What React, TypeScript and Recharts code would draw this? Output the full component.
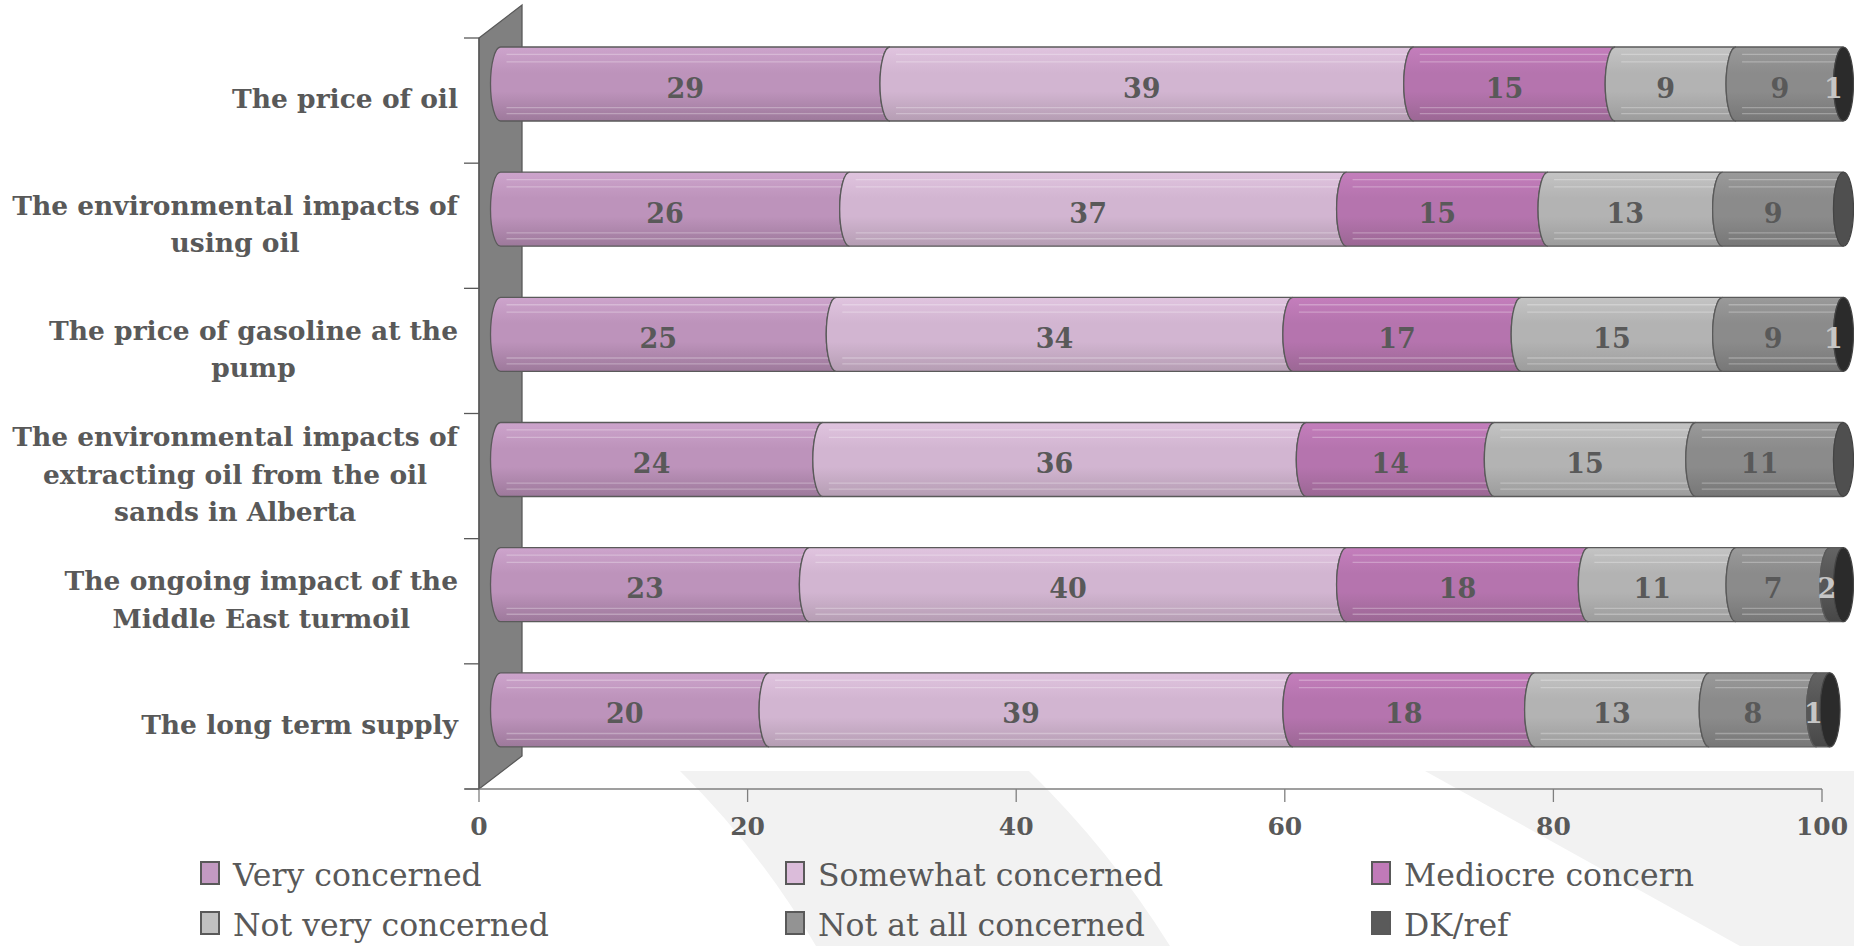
import React from 'react';
import { BarChart, Bar, XAxis, YAxis, LabelList } from 'recharts';

// ---------------- DATA ----------------
const categories = [
  'The price of oil',
  'The environmental impacts of using oil',
  'The price of gasoline at the pump',
  'The environmental impacts of extracting oil from the oil sands in Alberta',
  'The ongoing impact of the Middle East turmoil',
  'The long term supply',
];
const categoryLines = [
  ['The price of oil'],
  ['The environmental impacts of', 'using oil'],
  ['The price of gasoline at the', 'pump'],
  ['The environmental impacts of', 'extracting oil from the oil', 'sands in Alberta'],
  ['The ongoing impact of the', 'Middle East turmoil'],
  ['The long term supply'],
];
const seriesNames = [
  'Very concerned',
  'Somewhat concerned',
  'Mediocre concern',
  'Not very concerned',
  'Not at all concerned',
  'DK/ref',
];
const veryConcerned = [29, 26, 25, 24, 23, 20];
const somewhatConcerned = [39, 37, 34, 36, 40, 39];
const mediocreConcern = [15, 15, 17, 14, 18, 18];
const notVeryConcerned = [9, 13, 15, 15, 11, 13];
const notAtAllConcerned = [9, 9, 9, 11, 7, 8];
const dkRef = [1, 0, 1, 0, 2, 1];
const xTicks = [0, 20, 40, 60, 80, 100];
const xMax = 100;

const seriesValues = [
  veryConcerned,
  somewhatConcerned,
  mediocreConcern,
  notVeryConcerned,
  notAtAllConcerned,
  dkRef,
];

// ---------------- STYLE ----------------
const W = 1854;
const H = 946;
const PLOT_LEFT = 479;
const PLOT_TOP = 38;
const PLOT_RIGHT_MARGIN = 32;
const X_AXIS_H = 157;
const PLOT_BOTTOM = H - X_AXIS_H;
const SHIFT_X = 11.5;
const SHIFT_Y = 17;
const RX = 10;
const WALL_DX = 43;
const WALL_DY = 33;
const BAR_SIZE = 74;
const FONT = "'DejaVu Serif', serif";
const TEXT = '#595959';

const gradStops = [
  ['#cda4cc', '#bd93bb', '#9d799b'],
  ['#e0c4df', '#d2b5d1', '#b59db3'],
  ['#c47ebc', '#b574ae', '#9b6794'],
  ['#c4c4c4', '#b3b3b3', '#9c9c9c'],
  ['#9a9a9a', '#8b8b8b', '#777777'],
  ['#646464', '#575757', '#474747'],
];
const capColors = ['#8e6e8c', '#a48ea3', '#8c5d86', '#8a8a8a', '#4f4f4f', '#2b2b2b'];
const legendColors = ['#c39ac2', '#dbbcda', '#c07ab8', '#c0c0c0', '#939393', '#5a5a5a'];
const labelColors = [TEXT, TEXT, TEXT, TEXT, TEXT, '#c6c6c6'];
const LEG_X = [201, 786, 1372];
const LEG_Y = [862, 912];

// table the library needs: stack clipped at the axis maximum, raw values kept for labels
const rows = categories.map((c, i) => {
  const r: any = { label: c, idx: i };
  let cum = 0;
  seriesValues.forEach((vals, si) => {
    const v = vals[i];
    r[`s${si}`] = Math.max(0, Math.min(v, xMax - cum));
    r[`l${si}`] = v;
    cum += v;
  });
  return r;
});

const N = seriesValues.length;

function makeShape(si: number) {
  return (props: any) => {
    const { x, y, width, height, payload } = props;
    if (x == null || y == null || !payload) return <g />;
    const w = Math.max(0, Number(width) || 0);
    const X = x + SHIFT_X;
    const Y = y - SHIFT_Y;
    const h = height;
    const ry = h / 2;
    let lastVisible = -1;
    let lastRaw = -1;
    for (let j = 0; j < N; j++) {
      if (payload[`s${j}`] > 0) lastVisible = j;
      if (payload[`l${j}`] > 0) lastRaw = j;
    }
    const a = X;
    const b = X + w;
    const els: any[] = [];
    if (w > 0) {
      const d = `M${a + RX},${Y} L${b + RX},${Y} A${RX},${ry} 0 0 0 ${b + RX},${Y + h} L${a + RX},${Y + h} A${RX},${ry} 0 0 1 ${a + RX},${Y} Z`;
      els.push(<path key="body" d={d} fill={`url(#grad${si})`} stroke="#5a5a5a" strokeWidth={1.3} />);
      if (b - a > 20) {
        [0.1, 0.2, 0.82, 0.9].forEach((f, k) =>
          els.push(
            <line
              key={`hl${k}`}
              x1={a + RX + 6}
              x2={b + RX - 6}
              y1={Y + h * f}
              y2={Y + h * f}
              stroke="rgba(255,255,255,0.28)"
              strokeWidth={1.3}
            />
          )
        );
      }
    }
    if (si === lastVisible) {
      els.push(
        <ellipse
          key="cap"
          cx={b + RX}
          cy={Y + ry}
          rx={RX}
          ry={ry}
          fill={capColors[lastRaw >= 0 ? lastRaw : si]}
          stroke="#444444"
          strokeWidth={1.2}
        />
      );
    }
    return <g>{els}</g>;
  };
}

function makeLabel(si: number) {
  return (props: any) => {
    const { value } = props;
    const vb = props.viewBox && props.viewBox.width != null ? props.viewBox : props;
    const { x, y, width, height } = vb;
    if (!value || x == null) return null;
    return (
      <text
        x={x + SHIFT_X + (width || 0) / 2}
        y={y - SHIFT_Y + height / 2 + 4}
        textAnchor="middle"
        dominantBaseline="central"
        fontFamily={FONT}
        fontWeight="bold"
        fontSize={27}
        fill={labelColors[si]}
      >
        {value}
      </text>
    );
  };
}

let measureCtx: any = null;
function measure(t: string, font: string) {
  if (typeof document === 'undefined') return t.length * 15;
  if (!measureCtx) measureCtx = document.createElement('canvas').getContext('2d');
  measureCtx.font = font;
  return measureCtx.measureText(t).width;
}

const BAND = (PLOT_BOTTOM - PLOT_TOP) / categories.length;
const CAT_FS = 26.5;

const CatTick = (props: any) => {
  const { x, y, payload, index } = props;
  const i = categories.indexOf(payload.value);
  const lines = categoryLines[i >= 0 ? i : 0];
  const font = `bold ${CAT_FS}px 'DejaVu Serif'`;
  const maxW = Math.max(...lines.map((l) => measure(l, font)));
  const cx = x - maxW / 2;
  const lh = 37.5;
  const axisX = x + 21;
  return (
    <g>
      <line x1={axisX - 15} x2={axisX} y1={y - BAND / 2} y2={y - BAND / 2} stroke="#595959" strokeWidth={1.3} />
      {index === categories.length - 1 ? (
        <line x1={axisX - 15} x2={axisX} y1={y + BAND / 2} y2={y + BAND / 2} stroke="#595959" strokeWidth={1.3} />
      ) : null}
      {lines.map((l, k) => (
        <text
          key={k}
          x={cx}
          y={y + (k - (lines.length - 1) / 2) * lh - 2}
          dy="0.36em"
          textAnchor="middle"
          fontFamily={FONT}
          fontWeight="bold"
          fontSize={CAT_FS}
          fill={TEXT}
        >
          {l}
        </text>
      ))}
    </g>
  );
};

export default function App() {
  return (
    <div style={{ position: 'absolute', left: 0, top: 0, width: W, height: H, background: '#ffffff', overflow: 'hidden' }}>
      <svg width={W} height={H} style={{ position: 'absolute', left: 0, top: 0 }}>
        <defs>
          {gradStops.map((g, i) => (
            <linearGradient key={i} id={`grad${i}`} x1="0" y1="0" x2="0" y2="1">
              <stop offset="0" stopColor={g[0]} />
              <stop offset="0.35" stopColor={g[1]} />
              <stop offset="0.6" stopColor={g[1]} />
              <stop offset="1" stopColor={g[2]} />
            </linearGradient>
          ))}
        </defs>
        <path d="M680,771 L1029,771 Q1110,850 1170,946 L816,946 Q760,850 680,771 Z" fill="#f2f2f2" />
        <path d="M1425,771 L1854,771 L1854,946 L1740,946 Z" fill="#f2f2f2" />
        <polygon
          points={`${PLOT_LEFT},${PLOT_TOP} ${PLOT_LEFT + WALL_DX},${PLOT_TOP - WALL_DY} ${PLOT_LEFT + WALL_DX},${PLOT_BOTTOM - WALL_DY} ${PLOT_LEFT},${PLOT_BOTTOM}`}
          fill="#808080"
          stroke="#595959"
          strokeWidth={1.3}
        />
        <line x1={PLOT_LEFT - 14} x2={PLOT_LEFT} y1={PLOT_BOTTOM} y2={PLOT_BOTTOM} stroke="#7f7f7f" strokeWidth={1.3} />
      </svg>
      <div style={{ position: 'absolute', left: 0, top: 0 }}>
        <BarChart
          width={W}
          height={H}
          layout="vertical"
          data={rows}
          barSize={BAR_SIZE}
          margin={{ top: PLOT_TOP, right: PLOT_RIGHT_MARGIN, bottom: 0, left: 0 }}
        >
          <XAxis
            type="number"
            domain={[0, xMax]}
            ticks={xTicks}
            height={X_AXIS_H}
            tickSize={13}
            tickMargin={15}
            axisLine={{ stroke: '#7f7f7f', strokeWidth: 1.3 }}
            tickLine={{ stroke: '#7f7f7f', strokeWidth: 1.3 }}
            tick={{ fill: TEXT, fontSize: 25, fontWeight: 'bold', fontFamily: FONT }}
          />
          <YAxis
            type="category"
            dataKey="label"
            width={PLOT_LEFT}
            tickSize={15}
            tickMargin={6}
            tickLine={false}
            axisLine={{ stroke: '#595959', strokeWidth: 1.3 }}
            tick={(p: any) => <CatTick {...p} />}
            interval={0}
          />
          {seriesNames.map((name, si) => (
            <Bar
              key={name}
              name={name}
              dataKey={`s${si}`}
              stackId="a"
              fill={legendColors[si]}
              shape={makeShape(si)}
              isAnimationActive={false}
            >
              <LabelList dataKey={`l${si}`} content={makeLabel(si)} />
            </Bar>
          ))}
        </BarChart>
      </div>
      <svg width={W} height={H} style={{ position: 'absolute', left: 0, top: 0, pointerEvents: 'none' }}>
        {seriesNames.map((name, i) => {
          const sx = LEG_X[i % 3];
          const sy = LEG_Y[Math.floor(i / 3)];
          return (
            <g key={name}>
              <rect x={sx} y={sy} width={18} height={22} fill={legendColors[i]} stroke="#595959" strokeWidth={2} />
              <text x={sx + 32} y={sy + 24} fontFamily={FONT} fontSize={31.5} fill={TEXT}>
                {name}
              </text>
            </g>
          );
        })}
      </svg>
    </div>
  );
}
